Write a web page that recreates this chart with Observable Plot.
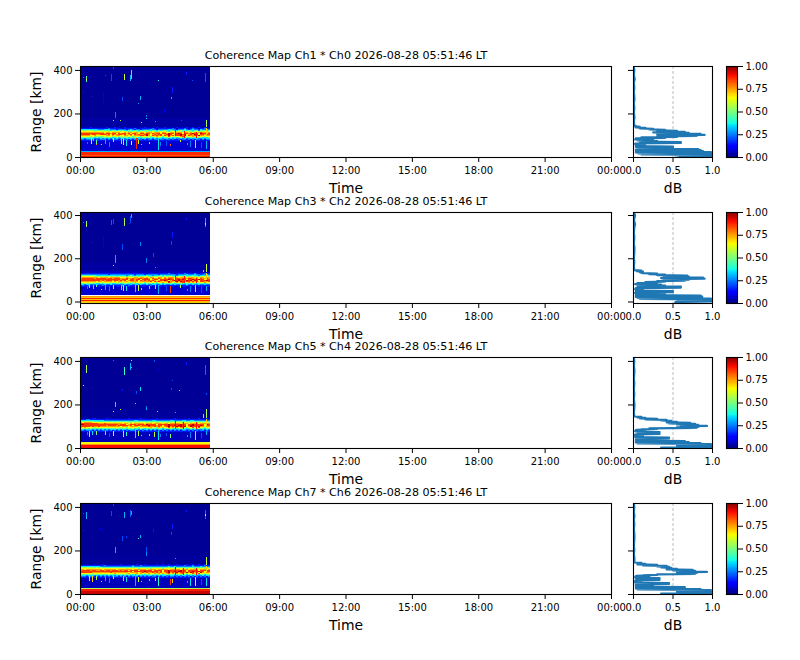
<!DOCTYPE html>
<html><head><meta charset="utf-8">
<script src="https://cdn.jsdelivr.net/npm/d3@7"></script>
<script src="https://cdn.jsdelivr.net/npm/@observablehq/plot@0.6"></script>
<style>
html,body{margin:0;padding:0;background:#fff}
#fig{position:relative;width:800px;height:660px;overflow:hidden;font-family:"DejaVu Sans"}
#fig>div{position:absolute}
</style></head><body><div id="fig"></div>
<script>
const titles = [
 "Coherence Map Ch1 * Ch0 2026-08-28 05:51:46 LT",
 "Coherence Map Ch3 * Ch2 2026-08-28 05:51:46 LT",
 "Coherence Map Ch5 * Ch4 2026-08-28 05:51:46 LT",
 "Coherence Map Ch7 * Ch6 2026-08-28 05:51:46 LT"];
const hourTicks = [0,3,6,9,12,15,18,21,24];
const rangeTicks = [0,200,400];
const dbTicks = [0,0.5,1];
const cbarTicks = [0,0.25,0.5,0.75,1];
const dataEndHour = 5.87;
const colStep = 0.0904, rowStep = 4.6;

// background coherence by range band [kmLow, kmHigh, value]
const background1 = [[28,85,.07],[85,140,.06],[140,180,.03],[180,425,.02]];
const background2 = [[28,85,.07],[85,140,.06],[140,180,.03],[180,425,.02]];
const background3 = [[28,85,.05],[85,140,.05],[140,180,.025],[180,425,.02]];
const background4 = [[28,85,.05],[85,140,.05],[140,180,.025],[180,425,.02]];

// near-range rows [kmLow, kmHigh, value]
const low1 = [[23,28,.3],[9,23,.87],[5,9,.82],[0,5,.9]];
const low2 = [[22,25,.75],[15,22,.72],[11,15,.86],[6,11,.72],[2,6,.88],[-2,2,.72],[-7,-2,.7]];
const low3 = [[23,28,.62],[18,23,.66],[14,18,.76],[0,14,.9]];
const low4 = [[24.5,28,.55],[14,24.5,.88],[0,14,.94]];

// top km of band grid in each panel
const bandTop = [136,130,136,136];
// band grid: one string per range row, digit = coherence tenths, one char per time column
const band1 = [
"00000100000001000100001000000000100000100010000010000100100100100",
"11111111111111211111101111121011111121011111112101112101211011211",
"33333333322233322212222123212212222322122222332212223212322132232",
"45455554444544434434443344344343454344343454344334544344344244434",
"66666665666566566566566545565456545565456565456656545655456555645",
"77777777777767767777667677677677677767776776677677767767676787767",
"88888888888878878868788786887688788687886887988689868878988698878",
"88888788778887868778878678687877897678788678986788989678798688788",
"77777667666667767677667767677788797687878687978688979687787977677",
"66666565554565665565565566456646656466766466866566786566766566566",
"54544443434444443443444534454344545434454344543434543444534543434",
"33233332223232323232232333232323322323233233232322323223233223233",
"22122221212221212221212212122221212212212212212112122121212212122",
"11111111111111111111111111111111111111111111111111111111111111111"];
const band2 = [
"11111111111111111111111111111111101111111111211011112111121011211",
"22222222222222122222222222212222122222212222222212222322232212232",
"34444444333333333333333234323333343323334343433323334333433233343",
"56666665555555555545555455455455565455555455565455655455555456555",
"77777777767777677777666766677677676776677676777676777677767677677",
"78888887888887887888777877877887887687787687887688788788777687787",
"88888888888888888888788868878868888678868888988689898688988988688",
"88888888887878887887878678878687878787678898678989887989798688898",
"77777777677677776767767767777677777868787677977697987887878688778",
"66666665656566656565656656466666465666466766876576786576766566766",
"44545444334444443344344443443444344434344344444344443443443444344",
"33233222322232232222223223223232232233223232232322322322322322322",
"12112111111211111111121121111111111211121111111111111211111111111",
"11111110111011101011011011010011101001101010011001011001010101001"];
const band3 = [
"00000011000001000000000010000010000000100000000100000010000100010",
"11122111111111111111111111111111111111111111111111111111111111111",
"33333333333322222222222222233222222233222222233222233223322222222",
"55555554444444444444444444444444444444444444444444544444444444444",
"76777766666666666566666655656566656566556565656566656655665565665",
"88888888877787777777767767677777677767777677677777677767777677777",
"99888888888888888887888678887888798888688888988888988688988888698",
"88888888888887888878888878688878889888788688988989988689988898688",
"88888787787777777777677767777677778778787678978798989679887977677",
"76766665666666666666566466666466666766476766867676786566866866466",
"55554544444444444454444454544454344544454344554344554345444544344",
"33233323232323233323233233323232332323233232232323233223232223232",
"22122212121222121212121212221212121212121212121212122121212122121",
"11111111111111111111111111111111111111111111111111111111111111111"];
const band4 = [
"00000000000100000000100000001000100000100100100010000100100100100",
"11111111111121111111111111211121111111111111111111112111211111211",
"33333333332222222222222222322222222222222222322322222222322232222",
"55555554545444444444444444444444444444444444544544444444444444544",
"66666666666666666666666566666466656466666466666466666466646666466",
"77677777777677777767777777677777767777677777677777677767777677767",
"78888788778878878887878868888688888868888688988888988688888688888",
"88888888888888888888888888688888988888878688988989988688988988688",
"88888877777777787777777767777678787787878678978797887979878697677",
"66666656666666666766666576667676567667576767867576786566866866566",
"44444545444444544445445454344544344544454345444344544344444344344",
"33323332323232323232323232333232323323232332233223233223232223233",
"22212221212121212221212121212121212122121212122121212121212121212",
"11111111111111111111111111111111111111111111111111111111111111111"];

// streaks and spots below and inside the band [hour, kmHigh, kmLow, value]
const streaks1 = [[.48,86,60,.6],[.59,86,75,.35],[.74,80,60,.45],[.74,60,55,.75],[.93,60,55,.7],[1.12,86,60,.3],[1.49,86,70,.6],[1.84,85,60,.4],[1.94,85,55,.55],[2.09,80,50,.35],[2.32,75,55,.65],[2.55,85,35,.88],[2.62,80,60,.6],[2.77,60,55,.7],[3.53,85,32,.35],[3.6,70,50,.25],[4.05,60,50,.8],[4.28,125,95,.92],[4.5,80,70,.6],[4.7,120,85,.9],[4.96,75,45,.25],[5.18,78,42,.5],[5.26,115,85,.9],[5.71,172,140,.55],[5.71,135,100,.7],[5.71,75,35,.3],[1.79,170,165,.6],[1.49,170,165,.5],[3,193,185,.25],[2.77,160,155,.5],[3.38,165,160,.3],[4.58,170,165,.2],[.3,70,60,.25],[1.3,70,45,.25],[3.1,70,60,.5],[3.9,75,50,.2],[4.85,65,55,.3],[5.45,70,40,.2],[5.55,62,58,.6]];
const streaks2 = [[.42,78,62,.55],[.6,78,60,.4],[.74,78,65,.45],[.93,60,55,.7],[1.12,78,55,.3],[1.49,78,60,.55],[1.84,78,52,.4],[1.94,78,48,.6],[2.09,70,50,.35],[2.5,90,42,.75],[2.62,78,50,.6],[2.77,62,52,.5],[3.53,78,35,.3],[3.38,75,60,.7],[4.05,72,40,.85],[4.28,122,90,.9],[4.5,75,62,.55],[4.7,118,84,.88],[4.96,72,45,.25],[5.18,76,42,.5],[5.26,110,85,.9],[5.71,172,135,.6],[5.71,130,100,.7],[5.71,72,50,.3],[1.49,170,165,.5],[3,190,178,.25],[3.38,160,155,.3],[5.55,145,135,.4],[.3,72,58,.25],[1.3,72,50,.25],[3.1,70,60,.4],[3.9,72,50,.2],[4.85,60,50,.3],[5.45,70,40,.2]];
const streaks3 = [[.42,80,52,.55],[.55,80,60,.35],[.74,80,62,.5],[1.12,80,58,.45],[1.49,78,55,.6],[1.94,80,50,.55],[2.09,75,55,.4],[2.5,90,45,.75],[2.62,80,55,.55],[2.77,60,55,.7],[3.35,72,50,.6],[3.53,78,35,.35],[3.6,65,50,.25],[4.05,65,45,.5],[4.28,125,88,.9],[4.65,120,85,.92],[4.96,75,45,.25],[5.18,78,38,.5],[5.26,118,85,.9],[5.71,180,140,.55],[5.71,135,100,.7],[5.71,78,60,.3],[1.49,170,165,.55],[1.79,178,173,.6],[3,193,180,.25],[3.5,170,165,.4],[4.3,165,160,.3],[5.55,155,140,.45],[.3,72,60,.25],[1.3,70,50,.2],[3.1,65,55,.4],[3.9,70,55,.2],[4.85,62,52,.3],[5.45,70,45,.2]];
const streaks4 = [[.42,82,60,.6],[.55,82,55,.7],[.74,82,65,.55],[.93,62,55,.5],[1.12,82,62,.3],[1.49,82,68,.55],[1.94,82,60,.45],[2.09,78,55,.35],[2.5,90,35,.8],[2.62,80,55,.6],[2.77,62,55,.5],[3.53,80,35,.4],[3.38,75,60,.5],[4.05,70,40,.85],[4.18,68,50,.7],[4.3,122,88,.92],[4.65,120,85,.9],[4.96,72,35,.35],[5.18,78,38,.6],[5.26,118,85,.9],[5.71,172,135,.6],[5.71,130,100,.7],[5.71,75,35,.35],[1.79,172,168,.68],[.3,172,168,.4],[3,193,175,.25],[3.9,172,168,.55],[4.3,165,160,.3],[1.3,72,50,.25],[3.1,68,58,.4],[4.85,62,52,.3],[5.45,70,42,.2]];

// sparse returns at long range [hour, kmHigh, kmLow, value]
const spots1 = [[.29,372,345,.45],[.29,358,352,.65],[.15,368,364,.25],[1.12,375,371,.2],[1.42,380,350,.2],[1.99,380,352,.6],[2.25,375,350,.3],[2.32,398,360,.38],[1.49,412,406,.2],[3.53,352,348,.38],[5.64,388,345,.9],[4.8,390,375,.15],[5.08,352,348,.2],[.14,287,283,.85],[.14,300,296,.15],[1.9,275,255,.2],[2.7,280,262,.3],[2.62,247,243,.28],[4.1,275,265,.3],[4.18,320,295,.15],[1.6,205,180,.25],[3,178,174,.35],[.5,278,274,.15],[1.02,300,250,.08],[3.8,220,200,.1]];
const spots2 = [[.29,372,345,.5],[.29,358,350,.62],[.15,368,364,.25],[1.42,378,355,.22],[1.99,385,350,.55],[2.25,395,365,.2],[2.32,405,385,.3],[1.49,380,360,.2],[5.64,385,345,.82],[5.64,362,352,.6],[4.8,385,375,.15],[1.9,265,240,.2],[2.7,275,255,.25],[2.62,240,236,.6],[4.1,280,260,.2],[4.18,320,295,.15],[1.6,215,180,.3],[3,200,185,.25],[.5,275,270,.15],[1.02,300,250,.08],[3.3,225,205,.2],[2.2,365,360,.18]];
const spots3 = [[.29,382,343,.55],[.14,290,286,.65],[1.49,405,400,.25],[1.99,374,336,.4],[2.25,390,358,.3],[2.32,402,398,.68],[2.32,372,368,.75],[3.35,405,395,.2],[3.53,365,360,.15],[5.64,382,336,.88],[4.8,395,380,.15],[4.18,312,308,.2],[2.7,282,260,.35],[2.55,260,250,.2],[4.1,275,265,.2],[4.47,267,263,.4],[5.71,252,245,.2],[1.6,213,190,.35],[2.47,205,201,.4],[3,183,175,.3],[.5,280,270,.12],[1.9,270,260,.15]];
const spots4 = [[.29,375,345,.3],[.15,372,368,.2],[1.42,380,360,.2],[1.99,378,350,.3],[2.25,385,355,.22],[2.32,382,365,.3],[1.49,415,405,.2],[5.64,385,345,.88],[5.64,368,360,.62],[4.8,385,375,.15],[.14,295,290,.15],[1.9,265,245,.2],[2.7,270,255,.3],[2.62,258,254,.45],[4.1,285,270,.2],[4.18,320,300,.15],[1.6,215,190,.3],[3,215,195,.2],[2.1,265,255,.18],[3.3,300,285,.15],[.5,260,256,.15],[.9,305,295,.12]];

// end-of-record profile, one value per 2.3 km from 0 km
const profile1 = [.53,1,.62,1,.58,1,.1,1,.06,1,.03,.98,.03,.88,.03,.85,.03,.82,.06,.2,.5,.03,.5,.03,.15,.03,.13,.02,.03,.6,.1,.6,.08,.3,.05,.25,.02,.03,.03,.4,.1,.55,.3,.8,.4,.9,.3,.85,.3,.7,.25,.65,.35,.55,.3,.4,.2,.25,.08,.15,.03,.08,.02,.03];
const profile2 = [.53,1,.6,1,.55,.98,.08,.98,.05,.87,.03,.87,.03,.85,.03,.4,.03,.15,.02,.03,.5,.03,.5,.03,.05,.12,.02,.03,.03,.6,.08,.6,.05,.4,.1,.35,.02,.25,.05,.3,.15,.4,.3,.65,.38,.7,.4,.9,.35,.88,.4,.7,.38,.68,.3,.4,.2,.3,.12,.1,.08,.12,.04,.1];
const profile3 = [.35,1,.35,1,.6,1,.55,1,.6,.98,.05,.85,.03,.7,.03,.65,.03,.2,.03,.03,.45,.05,.45,.02,.03,.12,.02,.03,.02,.33,.05,.33,.05,.33,.03,.02,.15,.03,.1,.3,.2,.8,.55,.82,.6,.93,.6,.82,.55,.78,.45,.72,.42,.55,.42,.48,.35,.42,.15,.3,.08,.15,.05,.1];
const profile4 = [.35,1,.35,1,.6,1,.55,.98,.6,.98,.05,.85,.03,.65,.03,.65,.03,.25,.03,.03,.03,.45,.05,.45,.02,.1,.03,.02,.03,.33,.04,.33,.03,.33,.03,.02,.2,.03,.12,.3,.3,.78,.6,.8,.55,.93,.6,.78,.5,.75,.42,.55,.42,.48,.35,.45,.3,.42,.12,.3,.05,.15,.05,.1];
// thin tail of the profile above the band [km, value]
const tail1 = [[147,.01],[165,.005],[185,.012],[205,.005],[225,.01],[250,.005],[270,.012],[300,.005],[320,.01],[345,.005],[360,.015],[380,.005],[400,.01],[418,.005]];
const tail2 = [[147,.01],[165,.005],[185,.01],[205,.005],[225,.01],[250,.012],[270,.005],[300,.01],[320,.005],[345,.01],[360,.02],[380,.005],[400,.02],[414,.005]];
const tail3 = [[147,.01],[165,.005],[185,.01],[205,.012],[225,.005],[250,.01],[270,.005],[300,.01],[320,.005],[345,.01],[360,.012],[380,.005],[400,.01],[418,.005]];
const tail4 = [[147,.01],[165,.012],[185,.005],[205,.01],[225,.005],[250,.01],[270,.012],[300,.005],[320,.01],[345,.005],[360,.012],[380,.005],[400,.01],[418,.005]];

const panels = [
 {top:66,  ydom:[0,418],  title:titles[0], background:background1, low:low1, band:band1, bandTop:bandTop[0], streaks:streaks1, spots:spots1, profile:profile1, tail:tail1},
 {top:212, ydom:[-7,414], title:titles[1], background:background2, low:low2, band:band2, bandTop:bandTop[1], streaks:streaks2, spots:spots2, profile:profile2, tail:tail2},
 {top:357, ydom:[0,418],  title:titles[2], background:background3, low:low3, band:band3, bandTop:bandTop[2], streaks:streaks3, spots:spots3, profile:profile3, tail:tail3},
 {top:503, ydom:[0,418],  title:titles[3], background:background4, low:low4, band:band4, bandTop:bandTop[3], streaks:streaks4, spots:spots4, profile:profile4, tail:tail4}
];

const jet = {type:"linear", clamp:true,
 domain:[0,.11,.125,.35,.375,.64,.66,.89,.91,1],
 range:["#000080","#0000ff","#0000ff","#00e5ff","#15ffe2","#eeff05","#fff600","#ff1300","#f10700","#800000"]};

const FONT = "DejaVu Sans", TICK = 10, TITLE = 11.1, LABEL = 13.9;
const svgStyle = {background:"transparent", overflow:"visible", color:"black", fontFamily:FONT, display:"block", maxWidth:"none"};
const PH = 91, PT = 30, PB = 40;
const fig = document.getElementById("fig");
function place(node, left, top){
  const d = document.createElement("div");
  d.style.left = left+"px"; d.style.top = top+"px";
  d.appendChild(node); fig.appendChild(d);
}
const frame = () => Plot.frame({stroke:"black", strokeWidth:1.1});

panels.forEach(p => {
  const yMin = p.ydom[0];
  const rows = [];
  p.background.forEach(([a,b,v]) => rows.push({x1:0,x2:dataEndHour,y1:Math.max(a,yMin),y2:Math.min(b,p.ydom[1]),v}));
  p.low.forEach(([a,b,v]) => rows.push({x1:0,x2:dataEndHour,y1:a,y2:b,v}));
  p.band.forEach((s,i) => {
    const hi = p.bandTop - i*rowStep;
    [...s].forEach((c,j) => {
      if (c==="0") return;
      rows.push({x1:j*colStep,x2:Math.min((j+1)*colStep,dataEndHour),y1:hi-rowStep,y2:hi,v:+c/10+.05});
    });
  });
  [...p.streaks, ...p.spots].forEach(([h,hi,lo,v]) =>
    rows.push({x1:h,x2:h+.045,y1:lo,y2:hi,v}));

  // heat map
  place(Plot.plot({
    width:622, height:PT+PH+PB, marginLeft:80, marginRight:11, marginTop:PT, marginBottom:PB,
    style:svgStyle,
    x:{domain:[0,24]}, y:{domain:p.ydom}, color:jet,
    marks:[
      Plot.rect(rows,{x1:"x1",x2:"x2",y1:"y1",y2:"y2",fill:"v",shapeRendering:"crispEdges",inset:0}),
      frame(),
      Plot.axisX({ticks:hourTicks,tickFormat:h=>String(h%24).padStart(2,"0")+":00",label:null,tickSize:5,tickPadding:4,fontSize:TICK}),
      Plot.axisY({ticks:rangeTicks,tickFormat:d3.format("d"),label:null,tickSize:5,tickPadding:3,fontSize:TICK}),
      Plot.text(["Time"],{frameAnchor:"bottom",dy:35,fontSize:LABEL,fill:"black",lineAnchor:"bottom"}),
      Plot.text(["Range [km]"],{frameAnchor:"left",dx:-44,rotate:-90,textAnchor:"middle",fontSize:LABEL,fill:"black"}),
      Plot.text([p.title],{frameAnchor:"top",dy:-11,fontSize:TITLE,fill:"black",lineAnchor:"middle"})
    ]
  }), 0, p.top-PT);

  // profile
  const pts = [...p.profile.map((v,i)=>({v,km:i*2.3})), ...p.tail.map(([km,v])=>({v,km}))];
  place(Plot.plot({
    width:120, height:PT+PH+PB, marginLeft:20, marginRight:21, marginTop:PT, marginBottom:PB,
    style:svgStyle,
    x:{domain:[0,1]}, y:{domain:p.ydom},
    marks:[
      Plot.ruleX([0.5],{stroke:"#bdbdbd",strokeWidth:1,strokeDasharray:"3,2"}),
      Plot.line(pts,{x:"v",y:"km",stroke:"#1f77b4",strokeWidth:2.2,clip:true,curve:"linear",strokeLinejoin:"round"}),
      frame(),
      Plot.axisX({ticks:dbTicks,tickFormat:d3.format(".1f"),label:null,tickSize:5,tickPadding:4,fontSize:TICK}),
      Plot.axisY({ticks:rangeTicks,tickFormat:()=>"",label:null,tickSize:5}),
      Plot.text(["dB"],{frameAnchor:"bottom",dy:35,fontSize:LABEL,fill:"black",lineAnchor:"bottom"})
    ]
  }), 613, p.top-PT);

  // colour bar
  place(Plot.plot({
    width:74, height:PT+PH+PB, marginLeft:1, marginRight:62, marginTop:PT, marginBottom:PB,
    style:svgStyle,
    x:{domain:[0,1],axis:null}, y:{domain:[0,1]}, color:jet,
    marks:[
      Plot.rect(d3.range(0,256),{x1:0,x2:1,y1:d=>d/256,y2:d=>(d+1)/256,fill:d=>(d+.5)/256,shapeRendering:"crispEdges"}),
      frame(),
      Plot.axisY({anchor:"right",ticks:cbarTicks,tickFormat:d3.format(".2f"),label:null,tickSize:5,tickPadding:3,fontSize:TICK})
    ]
  }), 725, p.top-PT);
});
</script></body></html>
